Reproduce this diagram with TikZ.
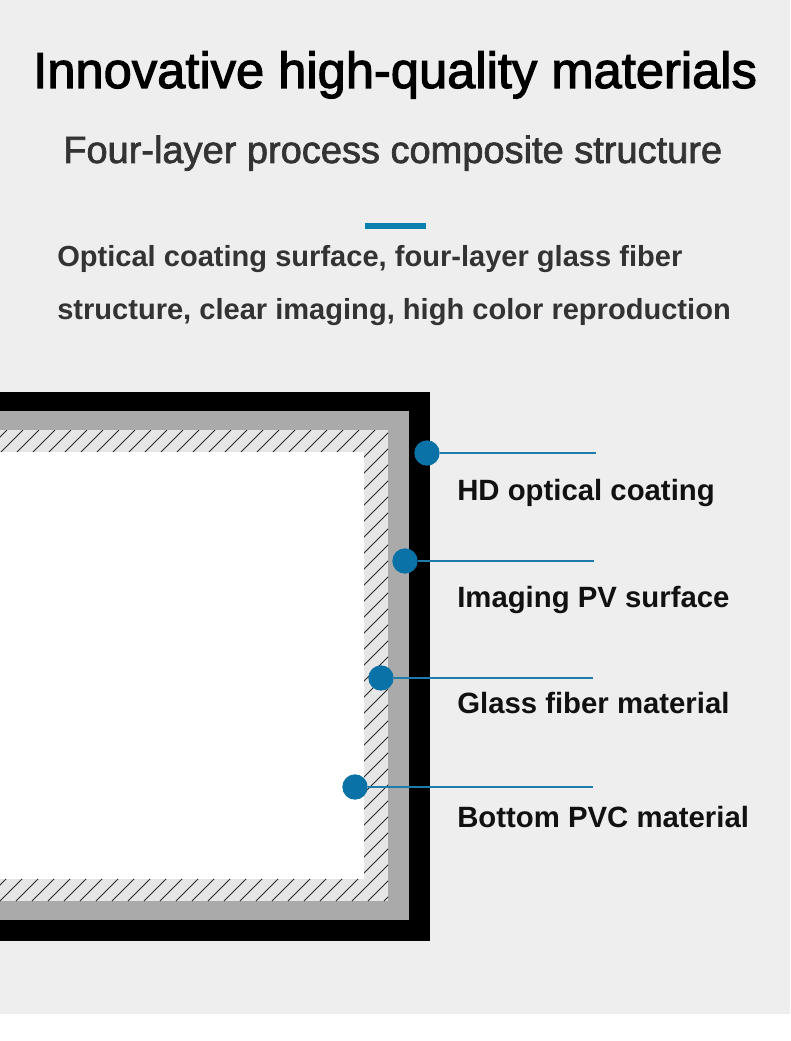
\documentclass[tikz,border=0pt]{standalone}
\usepackage{fontspec}
\setmainfont{Liberation Sans}
\newfontfamily\headfont[FakeBold=2.2]{Liberation Sans}
\newfontfamily\subfont[FakeBold=1.8]{Liberation Sans}
\definecolor{ink}{HTML}{111111}
\definecolor{muted}{HTML}{333333}
\definecolor{paper}{HTML}{EEEEEE}
\definecolor{coat}{HTML}{000000}
\definecolor{pvgrey}{HTML}{AAAAAA}
\definecolor{fiber}{HTML}{E6E6E6}
\definecolor{hatch}{HTML}{2A2A2A}
\definecolor{blue}{HTML}{0B72A8}
\definecolor{leader}{HTML}{1F7BAA}
\tikzset{
  dot/.style={circle,fill=blue,inner sep=0pt,minimum size=19},
  leadline/.style={draw=leader,line width=0.8pt},
  layer label/.style={anchor=base west,inner sep=0pt,font=\bfseries\fontsize{22}{26}\selectfont,text=ink},
  body text/.style={anchor=base west,inner sep=0pt,font=\bfseries\fontsize{21.8}{26}\selectfont,text=muted}
}

\begin{document}
\begin{tikzpicture}[x=0.75pt,y=-0.75pt]
  \useasboundingbox (0,0) rectangle (790,1041);
  \fill[white] (0,0) rectangle (790,1041);
  \fill[paper] (0,0) rectangle (790,1014);

  % heading
  \node[anchor=base west,inner sep=0pt,font=\headfont\fontsize{38}{44}\selectfont,text=black] (title) at (33,88)
    {Innovative high-quality materials};
  \node[anchor=base west,inner sep=0pt,font=\subfont\fontsize{28.5}{34}\selectfont,text=muted] (subtitle) at (63,163)
    {Four-layer process composite structure};
  \fill[blue!90!cyan] (365,223) rectangle (426,229);
  \node[body text] (line1) at (57,266) {Optical coating surface, four-layer glass fiber};
  \node[body text] (line2) at (57,319) {structure, clear imaging, high color reproduction};

  % the four layers
  \fill[coat] (0,392) rectangle (430,941);
  \fill[pvgrey] (0,411) rectangle (409,920);
  \fill[fiber] (0,430) rectangle (388,901);
  \begin{scope}
    \clip (0,430) rectangle (388,901);
    \foreach \k in {-480,-464,...,400}
      \draw[hatch,line width=0.75pt] (\k,901) -- ++(471,-471);
  \end{scope}
  \fill[white] (0,452) rectangle (364,879);

  % callouts
  \node[dot] (coating) at (427,453) {};
  \node[dot] (pv) at (405,561) {};
  \node[dot] (glass) at (381,678) {};
  \node[dot] (pvc) at (355,787) {};
  \coordinate (coating-end) at (596,453);
  \coordinate (pv-end) at (594,561);
  \coordinate (glass-end) at (593,678);
  \coordinate (pvc-end) at (593,787);
  \draw[leadline] (coating) -- (coating-end);
  \draw[leadline] (pv) -- (pv-end);
  \draw[leadline] (glass) -- (glass-end);
  \draw[leadline] (pvc) -- (pvc-end);

  \node[layer label] (coating-text) at (457,500) {HD optical coating};
  \node[layer label] (pv-text) at (457,607) {Imaging PV surface};
  \node[layer label] (glass-text) at (457,713) {Glass fiber material};
  \node[layer label] (pvc-text) at (457,827) {Bottom PVC material};
\end{tikzpicture}
\end{document}
